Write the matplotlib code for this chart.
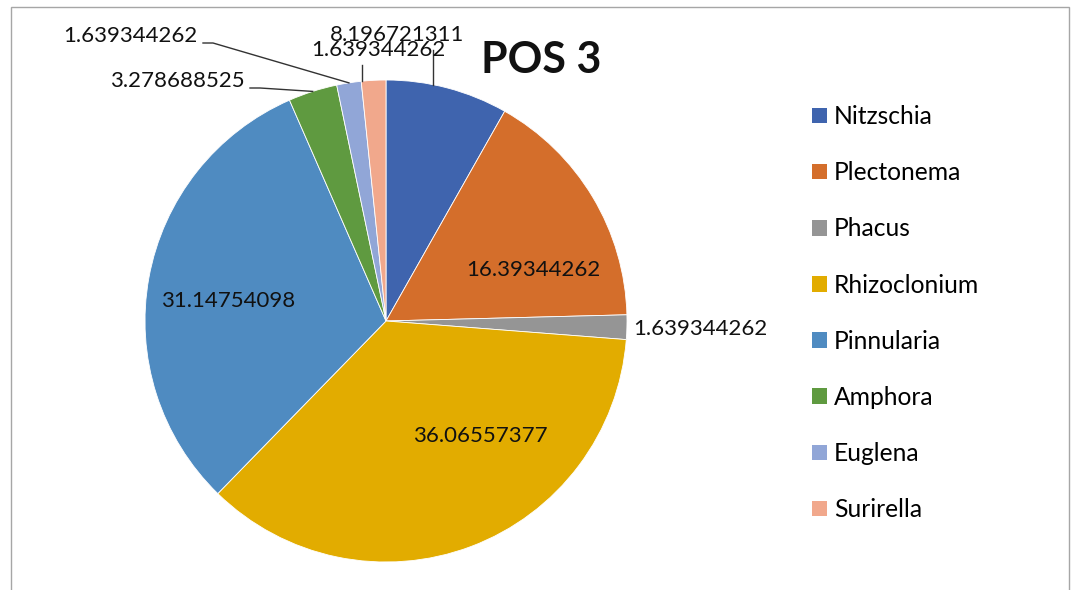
import numpy as np
import matplotlib.pyplot as plt
from matplotlib.patches import Patch, Rectangle

species = ["Nitzschia", "Plectonema", "Phacus", "Rhizoclonium",
           "Pinnularia", "Amphora", "Euglena", "Surirella"]
values = [8.196721311, 16.39344262, 1.639344262, 36.06557377,
          31.14754098, 3.278688525, 1.639344262, 1.639344262]
value_text = ["8.196721311", "16.39344262", "1.639344262", "36.06557377",
              "31.14754098", "3.278688525", "1.639344262", "1.639344262"]
colors = ["#3f64ae", "#d46e2b", "#959595", "#e2ac00",
          "#4f8bc1", "#5f9a40", "#91a6d7", "#f1a88c"]
title = "POS 3"

# layout, in image pixels (y measured from top)
W, H = 1077, 590
cx, cy, R = 386, 321, 241
# label position, horizontal alignment, leader kind
label_layout = [
    ((397, 35), "center", "vertical", 433),
    ((533, 270), "center", None, None),
    ((633, 329), "left", None, None),
    ((480, 436), "center", None, None),
    ((228, 301), "center", None, None),
    ((245, 81), "right", "elbow", 250),
    ((197, 36), "right", "elbow", 203),
    ((378, 50), "center", "vertical", 362),
]

plt.rcParams["font.family"] = ["Lato", "DejaVu Sans"]

fig = plt.figure(figsize=(W / 100, H / 100), dpi=100)
ax = fig.add_axes([0, 0, 1, 1])
ax.set_xlim(0, W)
ax.set_ylim(0, H)
ax.set_aspect("equal")
ax.axis("off")


def fy(y):
    return H - y


wedges, _ = ax.pie(values, colors=colors, startangle=90, counterclock=False,
                   center=(cx, fy(cy)), radius=R,
                   wedgeprops=dict(edgecolor="white", linewidth=0.6))
ax.set_xlim(0, W)
ax.set_ylim(0, H)

for w, txt, (pos, ha, kind, lx) in zip(wedges, value_text, label_layout):
    tx, ty = pos
    ax.text(tx, fy(ty), txt, ha=ha, va="center", fontsize=16, color="#111111")
    if kind == "vertical":
        dx = lx - cx
        ey = cy - np.sqrt(R ** 2 - dx ** 2)
        ax.plot([lx, lx], [fy(ty + 15), fy(ey)], color="#333333", lw=1)
    elif kind == "elbow":
        mid = np.deg2rad((w.theta1 + w.theta2) / 2)
        ex = cx + R * np.cos(mid)
        ey = fy(cy) + R * np.sin(mid)
        ax.plot([lx, lx + 10, ex], [fy(ty + 7), fy(ty + 7), ey],
                color="#333333", lw=1)

ax.text(541, fy(60), title, ha="center", va="center", fontsize=31,
        fontweight="bold", color="#111111")

handles = [Patch(facecolor=c, edgecolor="none") for c in colors]
leg = ax.legend(handles, species, loc="upper left",
                bbox_to_anchor=(812 / W, 1 - 105 / H), bbox_transform=fig.transFigure,
                frameon=False, fontsize=17.7, handlelength=0.6, handleheight=0.6,
                handletextpad=0.3, labelspacing=1.35, borderpad=0, borderaxespad=0)

ax.add_patch(Rectangle((11, fy(600)), 1058, 593, fill=False,
                       edgecolor="#a6a6a6", lw=1, clip_on=False))

fig.savefig("out.png", dpi=100)
